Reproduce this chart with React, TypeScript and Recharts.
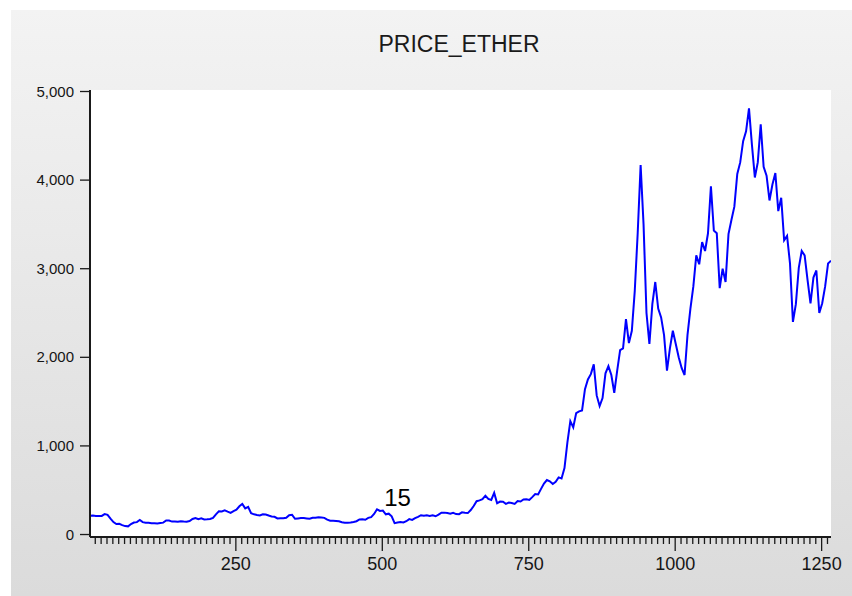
import React from 'react';
import { LineChart, Line, XAxis, YAxis, CartesianGrid, ReferenceDot } from 'recharts';

const TITLE = 'PRICE_ETHER';
const FIRST_OBS = 1;
const OBS_STEP = 5;
const PRICE_ETHER = [
  212, 214, 210, 208, 210, 230, 222, 180, 140, 118,
  120, 106, 95, 92, 118, 135, 140, 165, 140, 134,
  132, 128, 126, 124, 130, 134, 158, 158, 146, 148,
  144, 150, 147, 145, 152, 175, 186, 172, 182, 170,
  172, 176, 188, 228, 262, 260, 272, 258, 245, 265,
  280, 318, 345, 295, 312, 240, 228, 220, 216, 228,
  226, 214, 204, 200, 182, 184, 184, 188, 218, 222,
  178, 182, 186, 186, 182, 178, 190, 189, 196, 192,
  188, 168, 156, 156, 153, 150, 138, 133, 132, 135,
  142, 150, 170, 173, 167, 188, 196, 232, 285, 266,
  270, 228, 235, 205, 128, 136, 141, 136, 150, 174,
  165, 185, 200, 218, 212, 216, 208, 216, 206, 224,
  246, 247, 242, 234, 246, 231, 230, 250, 245, 242,
  276, 322, 376, 385, 398, 438, 402, 390, 470, 352,
  372, 370, 346, 360, 356, 346, 378, 372, 396, 398,
  390, 422, 456, 452, 515, 575, 615, 600, 570, 596,
  645, 632, 750, 1040, 1280, 1210, 1370, 1390, 1400, 1640,
  1750, 1810, 1920, 1570, 1450, 1540, 1820, 1900, 1800, 1600,
  1850, 2080, 2100, 2430, 2160, 2300, 2750, 3400, 4170, 3500,
  2500, 2150, 2600, 2850, 2550, 2450, 2250, 1850, 2100, 2300,
  2150, 2000, 1880, 1800, 2250, 2550, 2800, 3150, 3050, 3300,
  3200, 3400, 3930, 3430, 3400, 2780, 3000, 2850, 3390, 3550,
  3700, 4070, 4200, 4440, 4550, 4810, 4400, 4030, 4200, 4630,
  4150, 4050, 3770, 3950, 4080, 3650, 3800, 3320, 3370, 3060,
  2400, 2600, 3010, 3200, 3150, 2870, 2610, 2900, 2980, 2500,
  2610, 2800, 3060, 3090,
];
const X_MAJOR = [250, 500, 750, 1000, 1250];
const X_MINOR_STEP = 10;
const X_LAST_TICK = 1260;
const Y_TICKS = [0, 1000, 2000, 3000, 4000, 5000];
const X_DOMAIN: [number, number] = [1, 1266];
const Y_DOMAIN: [number, number] = [-28, 5017];
const NOTE_TEXT = '15';
const NOTE_OBS = 526;
const NOTE_VALUE = 418;

const data = PRICE_ETHER.map((v, i) => ({ obs: FIRST_OBS + OBS_STEP * i, price: v }));
const xTicks: number[] = [];
for (let t = X_MINOR_STEP; t <= X_LAST_TICK; t += X_MINOR_STEP) xTicks.push(t);

const FONT = '"Liberation Sans", Arial, sans-serif';
const AXIS = '#1a1a1a';

const XTick = (props: any) => {
  const { x, y, payload } = props;
  const v = payload.value;
  const major = X_MAJOR.includes(v);
  return (
    <g>
      <line x1={x} x2={x} y1={y} y2={y + (major ? 14 : 7)} stroke={AXIS} strokeWidth={1.3} />
      {major && (
        <text x={x} y={y + 33} textAnchor="middle" fontSize={18} fill="#151515" fontFamily={FONT}>
          {v}
        </text>
      )}
    </g>
  );
};

const YTick = (props: any) => {
  const { x, y, payload } = props;
  return (
    <g>
      <line x1={x - 10} x2={x} y1={y} y2={y} stroke={AXIS} strokeWidth={1.3} />
      <text x={x - 16} y={y} dy={5} textAnchor="end" fontSize={15} fill="#151515" fontFamily={FONT}>
        {Number(payload.value).toLocaleString('en-US')}
      </text>
    </g>
  );
};

export default function App() {
  return (
    <div style={{ position: 'absolute', left: 0, top: 0, width: 852, height: 596, background: '#fff', overflow: 'hidden' }}>
      <div
        style={{
          position: 'absolute', left: 11, top: 10, width: 841, height: 586,
          background: 'linear-gradient(#f3f3f3, #dbdbdb)',
        }}
      />
      <div
        style={{
          position: 'absolute', left: 0, top: 31, width: 918, textAlign: 'center',
          fontFamily: FONT, fontSize: 23, color: '#1a1a1a', lineHeight: '27px',
        }}
      >
        {TITLE}
      </div>
      <div style={{ position: 'absolute', left: 0, top: 0 }}>
        <LineChart width={852} height={596} data={data} margin={{ top: 90, right: 21, bottom: 0, left: 0 }}>
          <CartesianGrid fill="#ffffff" horizontal={false} vertical={false} stroke="none" />
          <XAxis
            dataKey="obs" type="number" domain={X_DOMAIN} ticks={xTicks} interval={0}
            tickLine={false} tickSize={0} tickMargin={0} height={59} allowDataOverflow
            axisLine={{ stroke: AXIS, strokeWidth: 2 }} tick={XTick}
          />
          <XAxis
            xAxisId="top" orientation="top" dataKey="obs" type="number" domain={X_DOMAIN}
            tick={false} tickLine={false} height={0} axisLine={{ stroke: AXIS, strokeWidth: 2 }}
          />
          <YAxis
            type="number" domain={Y_DOMAIN} ticks={Y_TICKS} interval={0} width={90}
            tickLine={false} tickSize={0} tickMargin={0} allowDataOverflow
            axisLine={{ stroke: AXIS, strokeWidth: 2 }} tick={YTick}
          />
          <YAxis
            yAxisId="right" orientation="right" type="number" domain={Y_DOMAIN} width={0}
            tick={false} tickLine={false} axisLine={{ stroke: AXIS, strokeWidth: 2 }}
          />
          <Line
            dataKey="price" type="linear" stroke="#0000ff" strokeWidth={2}
            dot={false} activeDot={false} isAnimationActive={false}
          />
          <ReferenceDot
            x={NOTE_OBS} y={NOTE_VALUE} r={0} fill="none" stroke="none"
            label={{ value: NOTE_TEXT, position: 'center', fontSize: 24, fill: '#000', fontFamily: FONT }}
          />
        </LineChart>
      </div>
    </div>
  );
}
